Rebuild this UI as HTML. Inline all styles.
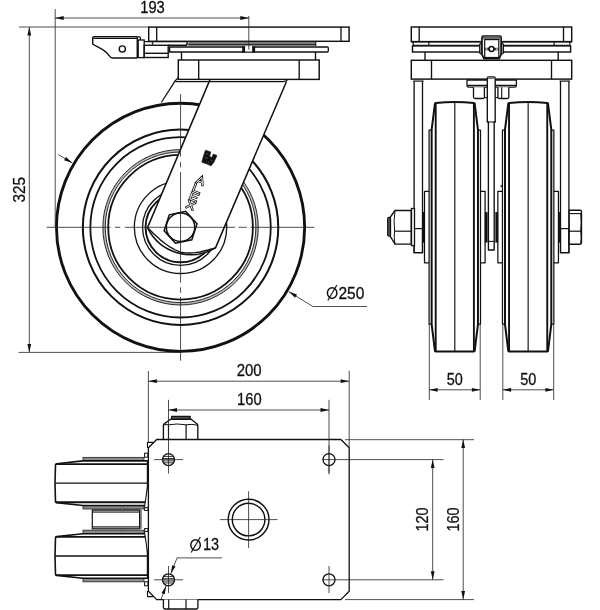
<!DOCTYPE html>
<html><head><meta charset="utf-8"><title>Castor drawing</title>
<style>
html,body{margin:0;padding:0;background:#fff;}
body{width:600px;height:610px;overflow:hidden;}
svg{display:block;filter:grayscale(1);}
text{font-family:"Liberation Sans",sans-serif;fill:#111;stroke:#111;stroke-width:0.3px;}
</style></head><body>
<svg width="600" height="610" viewBox="0 0 600 610">
<rect width="600" height="610" fill="#fff"/>
<g id="side">
<line x1="175" y1="81.2" x2="161.3" y2="102.5" stroke="#111" stroke-width="1.3" />
<circle cx="180.55" cy="227.3" r="124.1" fill="#fff" stroke="#111" stroke-width="2.85"/>
<circle cx="180.55" cy="227.3" r="97.7" fill="none" stroke="#111" stroke-width="2.0"/>
<circle cx="180.55" cy="227.3" r="90.2" fill="none" stroke="#111" stroke-width="1.8"/>
<circle cx="180.55" cy="227.3" r="76.5" fill="none" stroke="#bdbdbd" stroke-width="2.3"/>
<circle cx="180.55" cy="227.3" r="77.7" fill="none" stroke="#111" stroke-width="0.9"/>
<circle cx="180.55" cy="227.3" r="75.3" fill="none" stroke="#111" stroke-width="0.9"/>
<circle cx="180.55" cy="227.3" r="72.35" fill="none" stroke="#111" stroke-width="1.8"/>
<circle cx="180.55" cy="227.3" r="46.2" fill="none" stroke="#111" stroke-width="1.3"/>
<circle cx="180.55" cy="227.3" r="38.0" fill="none" stroke="#111" stroke-width="1.3"/>
<circle cx="180.55" cy="227.3" r="35.0" fill="none" stroke="#111" stroke-width="1.9"/>
<path d="M210,79.6 L147.5,227.6 A48.2,48.2 0 0 0 215.5,247.9 L286.7,81 Z" fill="#fff"/>
<path d="M210,79.6 L147.5,227.6 A48.2,48.2 0 0 0 215.5,247.9 L286.5,81.5" fill="none" stroke="#111" stroke-width="1.5" stroke-linejoin="round" />
<path d="M147.5,227.6 L154,234.1 L160,239.6 L165,243.5 L170.3,247.2 L175.5,250 L180.5,252.1 L185,252.9 L190,253 L195,252.7 L200,252 L208,250 L215.5,247.9" fill="none" stroke="#111" stroke-width="1.35" stroke-linejoin="round" />
<polygon points="196.97,223.75 191.83,239.75 175.41,243.30 164.13,230.85 169.27,214.85 185.69,211.30" fill="#fff" stroke="#111" stroke-width="1.5" stroke-linejoin="miter"/>
<circle cx="180.55" cy="227.3" r="14.2" fill="none" stroke="#111" stroke-width="1.5"/>
<polygon points="205.5,150.2 210.8,151.9 209.6,156.5 211.9,157.4 213.3,154.0 217.0,155.6 213.9,162.2 211.0,165.9 207.6,164.3 201.8,162.2 203.5,155.9" fill="#111" stroke="#111" stroke-width="0.6" stroke-linejoin="round"/>
<path d="M206.2,153.6 l2.2,0.8 M205.2,157.6 l2.6,1 M210.6,160.2 l2,0.8 M207.5,161.8 l1.8,0.7" stroke="#666" stroke-width="0.7" fill="none"/>
<g transform="translate(202.0,177.0) rotate(21.8) scale(1.1,1)" fill="none" stroke-linecap="square" stroke-linejoin="miter"><path d="M-3.1,7.4 L0,0.3 L3.1,7.4 M-1.9,5 H1.9 M-2.9,8.9 V16.1 H2.9 M2.9,17.8 H-2.9 V25 H2.9 M-2.9,21.4 H2.1 M-2.9,26.7 L2.9,33.9 M2.9,26.7 L-2.9,33.9" stroke="#111" stroke-width="2.3"/><path d="M-3.1,7.4 L0,0.3 L3.1,7.4 M-1.9,5 H1.9 M-2.9,8.9 V16.1 H2.9 M2.9,17.8 H-2.9 V25 H2.9 M-2.9,21.4 H2.1 M-2.9,26.7 L2.9,33.9 M2.9,26.7 L-2.9,33.9" stroke="#fff" stroke-width="0.8"/></g>
<rect x="148.7" y="27.1" width="200.4" height="14.2" rx="0" fill="#fff" stroke="#111" stroke-width="1.45"/>
<line x1="156.7" y1="27.1" x2="156.7" y2="41.3" stroke="#111" stroke-width="1.3" />
<line x1="341" y1="27.1" x2="341" y2="41.3" stroke="#111" stroke-width="1.3" />
<rect x="188.3" y="41.4" width="127.5" height="3.6" fill="#7c7c7c"/>
<line x1="188.3" y1="41.5" x2="315.8" y2="41.5" stroke="#111" stroke-width="0.9" />
<line x1="188.3" y1="44.9" x2="315.8" y2="44.9" stroke="#111" stroke-width="1.2" />
<line x1="315.8" y1="41.4" x2="315.8" y2="46" stroke="#111" stroke-width="1.0" />
<path d="M156,41.6 H186.5 Q188,43.4 186.5,45.2 H168" fill="none" stroke="#111" stroke-width="1.4" stroke-linejoin="round" />
<path d="M169.6,47 H327.4 Q328.3,47 328.3,47.9 V51.1 Q328.3,52 327.4,52 H169.6 Z" fill="#fff" stroke="#111" stroke-width="1.3" stroke-linejoin="round" />
<rect x="242.2" y="46.4" width="3" height="6" fill="#111"/>
<rect x="252.1" y="46.4" width="3" height="6" fill="#111"/>
<rect x="245.2" y="46" width="6.9" height="5.4" fill="#fff"/>
<line x1="181.5" y1="52" x2="181.5" y2="60" stroke="#111" stroke-width="1.35" />
<line x1="315.5" y1="52" x2="315.5" y2="60" stroke="#111" stroke-width="1.35" />
<rect x="178.3" y="60" width="140.9" height="19.4" rx="0" fill="#fff" stroke="#111" stroke-width="1.45"/>
<line x1="198.7" y1="60" x2="198.7" y2="79.4" stroke="#111" stroke-width="1.35" />
<line x1="299.2" y1="60" x2="299.2" y2="79.4" stroke="#111" stroke-width="1.35" />
<path d="M178.3,77.6 L175,81 L176.6,81.6 H283.5 Q286,81.5 287.6,79.6" fill="none" stroke="#111" stroke-width="1.3" stroke-linejoin="round" />
<path d="M137.2,36.8 H94 Q92.7,36.8 92.7,38 V44 C96,46.6 102,48 106.5,52.4 C108.6,54.6 110,58 112.5,58 H137.2" fill="#fff" stroke="#111" stroke-width="1.45" stroke-linejoin="round" />
<line x1="93.5" y1="38.5" x2="137.2" y2="38.5" stroke="#111" stroke-width="1.2" />
<line x1="137.3" y1="36.8" x2="137.3" y2="58" stroke="#111" stroke-width="1.5" />
<path d="M137.3,36.8 H139.4 Q140.4,36.8 140.4,37.8 V40" fill="none" stroke="#111" stroke-width="1.3" stroke-linejoin="round" />
<circle cx="122.3" cy="49.0" r="3.1" fill="none" stroke="#111" stroke-width="1.4"/>
<rect x="138.2" y="40" width="6.0" height="17.6" rx="0" fill="none" stroke="#111" stroke-width="1.3"/>
<rect x="144.2" y="45.3" width="24.0" height="12.2" rx="0" fill="none" stroke="#111" stroke-width="1.4"/>
<line x1="144.2" y1="41.6" x2="156" y2="41.6" stroke="#111" stroke-width="1.3" />
<line x1="144.2" y1="53.3" x2="168.2" y2="53.3" stroke="#111" stroke-width="1.4" />
<rect x="151.8" y="42.2" width="1.5" height="2.6" fill="#222"/>
</g>
<g id="front">
<rect x="411.3" y="27" width="160.4" height="14.6" rx="0" fill="#fff" stroke="#111" stroke-width="1.45"/>
<line x1="419.2" y1="27" x2="419.2" y2="41.6" stroke="#111" stroke-width="1.35" />
<line x1="563.5" y1="27" x2="563.5" y2="41.6" stroke="#111" stroke-width="1.35" />
<path d="M413.2,41.6 V45.3 H569.8 V41.6" fill="none" stroke="#111" stroke-width="1.2" stroke-linejoin="round" />
<rect x="428.2" y="42" width="1.3" height="3" fill="#222"/>
<rect x="553.5" y="42" width="1.3" height="3" fill="#222"/>
<line x1="411.3" y1="41.9" x2="571.7" y2="41.9" stroke="#111" stroke-width="1.3" />
<rect x="412.5" y="45.9" width="158.1" height="6.1" rx="0" fill="#fff" stroke="#111" stroke-width="1.45"/>
<line x1="425" y1="52" x2="425" y2="60" stroke="#111" stroke-width="1.35" />
<line x1="558.2" y1="52" x2="558.2" y2="60" stroke="#111" stroke-width="1.35" />
<rect x="411.3" y="60.3" width="160.4" height="18.8" rx="0" fill="#fff" stroke="#111" stroke-width="1.45"/>
<line x1="431.5" y1="60.3" x2="431.5" y2="79.1" stroke="#111" stroke-width="1.35" />
<line x1="551.5" y1="60.3" x2="551.5" y2="79.1" stroke="#111" stroke-width="1.35" />
<path d="M482,42.6 L479.6,44.2 V53 L482,54.6 Z" fill="#999" stroke="#111" stroke-width="1.1" stroke-linejoin="round" />
<path d="M501.1,42.6 L503.5,44.2 V53 L501.1,54.6 Z" fill="#999" stroke="#111" stroke-width="1.1" stroke-linejoin="round" />
<path d="M482,37.4 Q482,36 483.4,36 H499.7 Q501.1,36 501.1,37.4 V54.4 L499.2,58.6 H483.9 L482,54.4 Z" fill="#fff" stroke="#111" stroke-width="1.7" stroke-linejoin="round" />
<rect x="482.9" y="36.7" width="17.3" height="2.7" fill="#6a6a6a"/>
<rect x="484.7" y="39.6" width="14.1" height="17.9" rx="0" fill="#fff" stroke="#111" stroke-width="1.2"/>
<rect x="484.7" y="47.8" width="14.1" height="2.5" fill="#2a2a2a"/>
<rect x="485.7" y="48.4" width="1.8" height="1.3" fill="#e8e8e8"/>
<rect x="495.9" y="48.4" width="1.8" height="1.3" fill="#e8e8e8"/>
<circle cx="491.5" cy="49.0" r="2.5" fill="#fff" stroke="#111" stroke-width="1.5"/>
<path d="M414.1,81.3 V252.7 H422.5 V81.3" fill="#fff" stroke="#111" stroke-width="1.3" stroke-linejoin="round" />
<line x1="413.20000000000005" y1="81.1" x2="423.6" y2="81.1" stroke="#111" stroke-width="1.2" />
<path d="M560.5,81.3 V252.7 H568.9 V81.3" fill="#fff" stroke="#111" stroke-width="1.3" stroke-linejoin="round" />
<line x1="559.6" y1="81.1" x2="570.0" y2="81.1" stroke="#111" stroke-width="1.2" />
<rect x="414.1" y="228.6" width="8.4" height="24.1" rx="0" fill="none" stroke="#111" stroke-width="1.2"/>
<rect x="560.5" y="228.6" width="8.4" height="24.1" rx="0" fill="none" stroke="#111" stroke-width="1.2"/>
<path d="M434.9,104 Q434.9,103.1 435.8,103 Q454.8,100.9 473.8,103 Q474.7,103.1 474.7,104 L477.95,129.6 V324.4 L474.7,350.6 Q474.7,351.5 473.8,351.5 H435.8 Q434.9,351.5 434.9,350.6 L431.65,324.4 V129.6 Z" fill="#fff" stroke="#111" stroke-width="2.0" stroke-linejoin="round" />
<line x1="435.7" y1="103.3" x2="435.7" y2="351.4" stroke="#111" stroke-width="1.9" />
<line x1="473.9" y1="103.3" x2="473.9" y2="351.4" stroke="#111" stroke-width="1.9" />
<line x1="454.8" y1="102.3" x2="454.8" y2="351.4" stroke="#111" stroke-width="1.15" />
<path d="M431.6,130 H429.1 V324 H431.6" fill="none" stroke="#111" stroke-width="1.25" stroke-linejoin="round" />
<path d="M429.1,191.3 H424.5 V262.8 H429.1" fill="none" stroke="#111" stroke-width="1.25" stroke-linejoin="round" />
<rect x="423.0" y="212.2" width="1.5" height="30.2" rx="0" fill="#111" stroke="#111" stroke-width="0.3"/>
<path d="M478.0,130 H480.5 V324 H478.0" fill="none" stroke="#111" stroke-width="1.25" stroke-linejoin="round" />
<path d="M480.5,191.3 H485.1 V262.8 H480.5" fill="none" stroke="#111" stroke-width="1.25" stroke-linejoin="round" />
<rect x="485.0" y="212.2" width="2.4" height="30.2" rx="0" fill="#111" stroke="#111" stroke-width="0.3"/>
<path d="M508.25,104 Q508.25,103.1 509.15,103 Q528.15,100.9 547.15,103 Q548.05,103.1 548.05,104 L551.3,129.6 V324.4 L548.05,350.6 Q548.05,351.5 547.15,351.5 H509.15 Q508.25,351.5 508.25,350.6 L505.0,324.4 V129.6 Z" fill="#fff" stroke="#111" stroke-width="2.0" stroke-linejoin="round" />
<line x1="509.05" y1="103.3" x2="509.05" y2="351.4" stroke="#111" stroke-width="1.9" />
<line x1="547.25" y1="103.3" x2="547.25" y2="351.4" stroke="#111" stroke-width="1.9" />
<line x1="528.15" y1="102.3" x2="528.15" y2="351.4" stroke="#111" stroke-width="1.15" />
<path d="M504.95,130 H502.45 V324 H504.95" fill="none" stroke="#111" stroke-width="1.25" stroke-linejoin="round" />
<path d="M502.45,191.3 H497.85 V262.8 H502.45" fill="none" stroke="#111" stroke-width="1.25" stroke-linejoin="round" />
<rect x="495.55" y="212.2" width="2.4" height="30.2" rx="0" fill="#111" stroke="#111" stroke-width="0.3"/>
<path d="M551.35,130 H553.85 V324 H551.35" fill="none" stroke="#111" stroke-width="1.25" stroke-linejoin="round" />
<path d="M553.85,191.3 H558.45 V262.8 H553.85" fill="none" stroke="#111" stroke-width="1.25" stroke-linejoin="round" />
<rect x="558.45" y="212.2" width="1.5" height="30.2" rx="0" fill="#111" stroke="#111" stroke-width="0.3"/>
<path d="M467,80 H516.4 V85.6 Q516.4,87.2 514.6,87.2 H468.8 Q467,87.2 467,85.6 Z" fill="#fff" stroke="#111" stroke-width="1.3" stroke-linejoin="round" />
<line x1="467.4" y1="85.4" x2="516" y2="85.4" stroke="#111" stroke-width="1.3" />
<path d="M473.5,87.2 V97 Q473.5,98.5 475,98.5 H483 Q484.4,98.5 484.4,97 V87.2" fill="#fff" stroke="#111" stroke-width="1.3" stroke-linejoin="round" />
<path d="M484.4,97.6 H487.2" fill="none" stroke="#111" stroke-width="1.1" stroke-linejoin="round" />
<path d="M508.8,87.2 V97 Q508.8,98.5 507.3,98.5 H499.4 Q497.9,98.5 497.9,97 V87.2" fill="#fff" stroke="#111" stroke-width="1.3" stroke-linejoin="round" />
<line x1="501.7" y1="87.2" x2="501.7" y2="98.5" stroke="#111" stroke-width="1.1" />
<path d="M495.2,97.6 H497.9" fill="none" stroke="#111" stroke-width="1.1" stroke-linejoin="round" />
<path d="M488.4,250 V122 H487.3 V78 Q487.3,76.9 488.5,76.9 H494 Q495.2,76.9 495.2,78 V122 H494.2 V250 Z" fill="#fff" stroke="#111" stroke-width="1.35" stroke-linejoin="round" />
<rect x="487.9" y="77.4" width="6.7" height="1.7" fill="#777"/>
<path d="M487.3,122 H495.2" fill="none" stroke="#111" stroke-width="1.05" stroke-linejoin="round" />
<line x1="488.4" y1="241.4" x2="494.2" y2="241.4" stroke="#111" stroke-width="1.05" />
<circle cx="501.3" cy="186" r="0.7" fill="#111" stroke="#111" stroke-width="0.5"/>
<path d="M411.2,210.5 H395 L390.4,217 V236.6 L395,244.2 H411.2 Z" fill="#fff" stroke="#111" stroke-width="1.3" stroke-linejoin="round" />
<rect x="387.7" y="217.4" width="2.8" height="18.8" rx="1.2" fill="#555" stroke="#111" stroke-width="1.2"/>
<line x1="394.4" y1="231.2" x2="411.2" y2="231.2" stroke="#111" stroke-width="1.2" />
<path d="M395,210.5 Q393.4,221 394.6,231.2 Q393.6,238 395,244.2" fill="none" stroke="#111" stroke-width="1.0" stroke-linejoin="round" />
<rect x="411.5" y="208.5" width="3.0" height="37.1" rx="0" fill="#fff" stroke="#111" stroke-width="1.3"/>
<path d="M569.2,210.2 H580 Q581.5,210.2 581.5,211.8 V242.6 Q581.5,244.2 580,244.2 H569.2 Z" fill="#fff" stroke="#111" stroke-width="1.35" stroke-linejoin="round" />
<line x1="569.2" y1="231.2" x2="581.5" y2="231.2" stroke="#111" stroke-width="1.2" />
<line x1="569.2" y1="213.6" x2="581" y2="213.6" stroke="#111" stroke-width="1.1" />
<path d="M580.6,213.6 Q581.8,222 580.6,231.2 Q581.8,238 580.6,244" fill="none" stroke="#111" stroke-width="0.9" stroke-linejoin="round" />
</g>
<g id="plan">
<rect x="83" y="457.4" width="61" height="3.4" rx="0" fill="#8a8a8a" stroke="#333" stroke-width="0.9"/>
<rect x="83" y="505.6" width="61" height="3.4" rx="0" fill="#8a8a8a" stroke="#333" stroke-width="0.9"/>
<path d="M56.5,463.8 Q55.6,463.8 55.5,464.8 Q54.5,483.2 55.5,501.6 Q55.6,502.6 56.5,502.6 L83,505.5 H147.6 V460.9 H83 Z" fill="#fff" stroke="#111" stroke-width="1.6" stroke-linejoin="round" />
<line x1="56" y1="464.1" x2="147.6" y2="464.1" stroke="#111" stroke-width="1.9" />
<line x1="56" y1="502.3" x2="147.6" y2="502.3" stroke="#111" stroke-width="1.9" />
<line x1="55.2" y1="483.2" x2="147.6" y2="483.2" stroke="#111" stroke-width="1.3" />
<rect x="83" y="530.2" width="61" height="3.4" rx="0" fill="#8a8a8a" stroke="#333" stroke-width="0.9"/>
<rect x="83" y="578.4" width="61" height="3.4" rx="0" fill="#8a8a8a" stroke="#333" stroke-width="0.9"/>
<path d="M56.5,536.6 Q55.6,536.6 55.5,537.6 Q54.5,556.0 55.5,574.4 Q55.6,575.4 56.5,575.4 L83,578.3 H147.6 V533.7 H83 Z" fill="#fff" stroke="#111" stroke-width="1.6" stroke-linejoin="round" />
<line x1="56" y1="536.9" x2="147.6" y2="536.9" stroke="#111" stroke-width="1.9" />
<line x1="56" y1="575.1" x2="147.6" y2="575.1" stroke="#111" stroke-width="1.9" />
<line x1="55.2" y1="556.0" x2="147.6" y2="556.0" stroke="#111" stroke-width="1.3" />
<rect x="92.3" y="510" width="47.3" height="18.8" rx="0" fill="#fff" stroke="#111" stroke-width="1.2"/>
<rect x="92.8" y="510.2" width="46.4" height="2.2" rx="0" fill="#888" stroke="#111" stroke-width="0.5"/>
<rect x="92.8" y="526.4" width="46.4" height="2.2" rx="0" fill="#888" stroke="#111" stroke-width="0.5"/>
<line x1="141" y1="510" x2="141" y2="528.8" stroke="#111" stroke-width="0.95" />
<polygon points="120.8,508.2 123.6,508.2 122.2,510" fill="#fff" stroke="#111" stroke-width="0.5"/>
<polygon points="120.8,530.8 123.6,530.8 122.2,529" fill="#fff" stroke="#111" stroke-width="0.5"/>
<polygon points="148.2,483.2 144.5,507.2 148.4,507.2" fill="#fff"/>
<polygon points="148.2,555.8 144.5,531.8 148.4,531.8" fill="#fff"/>
<path d="M148,483.2 L144.5,507" fill="none" stroke="#111" stroke-width="1.1" stroke-linejoin="round" />
<path d="M148,555.8 L144.5,532" fill="none" stroke="#111" stroke-width="1.1" stroke-linejoin="round" />
<path d="M147.5,448 V442.4 H153 M147.5,591 V596.6 H153" fill="none" stroke="#111" stroke-width="1.1" stroke-linejoin="round" />
<rect x="144.6" y="453.2" width="3.4" height="4.0" rx="0" fill="#fff" stroke="#111" stroke-width="1.0"/>
<rect x="144.6" y="507.6" width="3.4" height="2.8" rx="0" fill="#fff" stroke="#111" stroke-width="1.0"/>
<rect x="144.6" y="528.6" width="3.4" height="2.8" rx="0" fill="#fff" stroke="#111" stroke-width="1.0"/>
<rect x="144.6" y="581.8" width="3.4" height="4.0" rx="0" fill="#fff" stroke="#111" stroke-width="1.0"/>
<path d="M163.4,439.5 V425.5 Q163.4,424.3 164.2,423.90000000000003 L170.6,419.2 H191.2 L197,423.90000000000003 Q197.8,424.3 197.8,425.5 V439.5" fill="#fff" stroke="#111" stroke-width="1.35" stroke-linejoin="round" />
<path d="M163.6,425.2 Q166,424.0 168.5,424.8 Q177.3,423.2 186.1,424.8 Q192,423.8 197.6,425.2" fill="none" stroke="#111" stroke-width="1.0" stroke-linejoin="round" />
<line x1="168.5" y1="424.8" x2="168.5" y2="439.5" stroke="#111" stroke-width="1.2" />
<line x1="186.1" y1="424.8" x2="186.1" y2="439.5" stroke="#111" stroke-width="1.2" />
<rect x="171.6" y="416.5" width="18.6" height="2.5" rx="0" fill="#555" stroke="#111" stroke-width="1.0"/>
<line x1="171.4" y1="416.4" x2="190.4" y2="416.4" stroke="#111" stroke-width="1.3" />
<path d="M156.70000000000002,439.5 H340.9 L349.2,447.8 V591.3000000000001 L340.9,599.6 H156.70000000000002 L148.4,591.3000000000001 V447.8 Z" fill="#fff" stroke="#111" stroke-width="1.3" stroke-linejoin="round" />
<path d="M163.4,599.6 V607.6 Q163.4,609 164.9,609 H196.4 Q197.9,609 197.9,607.6 V599.6" fill="#fff" stroke="#111" stroke-width="1.3" stroke-linejoin="round" />
<line x1="168.7" y1="599.6" x2="168.7" y2="609" stroke="#111" stroke-width="1.2" />
<line x1="186" y1="599.6" x2="186" y2="609" stroke="#111" stroke-width="1.2" />
<circle cx="168.5" cy="459.6" r="6.0" fill="#fff" stroke="#111" stroke-width="1.35"/>
<circle cx="168.5" cy="579.8" r="6.0" fill="#fff" stroke="#111" stroke-width="1.35"/>
<circle cx="329.0" cy="459.6" r="6.0" fill="#fff" stroke="#111" stroke-width="1.35"/>
<circle cx="329.0" cy="579.8" r="6.0" fill="#fff" stroke="#111" stroke-width="1.35"/>
<line x1="163.31" y1="456.40000000000003" x2="173.69" y2="456.40000000000003" stroke="#111" stroke-width="0.85" />
<line x1="162.5" y1="458.5" x2="174.5" y2="458.5" stroke="#111" stroke-width="0.85" />
<line x1="162.54" y1="460.90000000000003" x2="174.46" y2="460.90000000000003" stroke="#111" stroke-width="0.85" />
<line x1="163.31" y1="462.8" x2="173.69" y2="462.8" stroke="#111" stroke-width="0.85" />
<line x1="163.31" y1="576.5999999999999" x2="173.69" y2="576.5999999999999" stroke="#111" stroke-width="0.85" />
<line x1="162.5" y1="578.6999999999999" x2="174.5" y2="578.6999999999999" stroke="#111" stroke-width="0.85" />
<line x1="162.54" y1="581.0999999999999" x2="174.46" y2="581.0999999999999" stroke="#111" stroke-width="0.85" />
<line x1="163.31" y1="583.0" x2="173.69" y2="583.0" stroke="#111" stroke-width="0.85" />
<circle cx="248.6" cy="519.6" r="20.4" fill="none" stroke="#111" stroke-width="1.45"/>
<circle cx="248.6" cy="519.6" r="16.3" fill="none" stroke="#111" stroke-width="1.45"/>
</g>
<g id="dims" stroke-linecap="butt">
<line x1="46.7" y1="227.3" x2="314.4" y2="227.3" stroke="#222" stroke-width="0.8" stroke-dasharray="63.8 4.5 5.3 4.5 110.3 3.5 8.2 3.6 64"/>
<line x1="180.55" y1="94" x2="180.55" y2="360.7" stroke="#222" stroke-width="0.8" stroke-dasharray="62.7 5.3 5.3 4.7 110.7 4.6 5.4 4.3 64"/>
<line x1="55.2" y1="9" x2="55.2" y2="227.3" stroke="#222" stroke-width="0.8" />
<line x1="248.8" y1="16" x2="248.8" y2="49.6" stroke="#222" stroke-width="0.8" />
<line x1="55.2" y1="18" x2="248.8" y2="18" stroke="#222" stroke-width="0.8" />
<polygon points="55.20,18.00 63.70,16.10 63.70,19.90" fill="#111"/>
<polygon points="248.80,18.00 240.30,19.90 240.30,16.10" fill="#111"/>
<text x="152.5" y="13.3" font-size="16.2" text-anchor="middle" textLength="24.6" lengthAdjust="spacingAndGlyphs">193</text>
<line x1="19" y1="27" x2="148.7" y2="27" stroke="#222" stroke-width="0.8" />
<line x1="18.5" y1="352.4" x2="181" y2="352.4" stroke="#222" stroke-width="0.8" />
<line x1="29.3" y1="27" x2="29.3" y2="352.4" stroke="#222" stroke-width="0.8" />
<polygon points="29.30,27.00 31.20,35.50 27.40,35.50" fill="#111"/>
<polygon points="29.30,352.40 27.40,343.90 31.20,343.90" fill="#111"/>
<text x="24.6" y="189.8" font-size="16.8" text-anchor="middle" transform="rotate(-90 24.6 189.8)" textLength="25.6" lengthAdjust="spacingAndGlyphs">325</text>
<line x1="58.26" y1="154.54" x2="72.44" y2="162.98" stroke="#222" stroke-width="0.8" />
<polygon points="72.44,162.98 64.07,160.22 66.02,156.95" fill="#111"/>
<path d="M288.66,291.62 L312.9,306.5 H367" fill="none" stroke="#222" stroke-width="0.8" stroke-linejoin="round" />
<polygon points="288.66,291.62 297.03,294.38 295.08,297.65" fill="#111"/>
<ellipse cx="332.15000000000003" cy="293.1" rx="4.75" ry="5.3" fill="none" stroke="#111" stroke-width="1.45"/>
<line x1="327.8" y1="300.5" x2="336.90000000000003" y2="285.0" stroke="#111" stroke-width="1.15" />
<text x="338.4" y="298.5" font-size="16.8" text-anchor="start" textLength="25.9" lengthAdjust="spacingAndGlyphs">250</text>
<line x1="429.3" y1="324" x2="429.3" y2="400" stroke="#222" stroke-width="0.8" />
<line x1="480.2" y1="324" x2="480.2" y2="400" stroke="#222" stroke-width="0.8" />
<line x1="429.3" y1="389.8" x2="480.2" y2="389.8" stroke="#222" stroke-width="0.8" />
<polygon points="429.30,389.80 437.60,387.90 437.60,391.70" fill="#111"/>
<polygon points="480.20,389.80 471.90,391.70 471.90,387.90" fill="#111"/>
<text x="454.75" y="384.75" font-size="16.8" text-anchor="middle" textLength="16.1" lengthAdjust="spacingAndGlyphs">50</text>
<line x1="502.8" y1="324" x2="502.8" y2="400" stroke="#222" stroke-width="0.8" />
<line x1="553.7" y1="324" x2="553.7" y2="400" stroke="#222" stroke-width="0.8" />
<line x1="502.8" y1="389.8" x2="553.7" y2="389.8" stroke="#222" stroke-width="0.8" />
<polygon points="502.80,389.80 511.10,387.90 511.10,391.70" fill="#111"/>
<polygon points="553.70,389.80 545.40,391.70 545.40,387.90" fill="#111"/>
<text x="528.25" y="384.75" font-size="16.8" text-anchor="middle" textLength="16.1" lengthAdjust="spacingAndGlyphs">50</text>
<line x1="148.4" y1="371" x2="148.4" y2="443" stroke="#222" stroke-width="0.8" />
<line x1="349.2" y1="370.7" x2="349.2" y2="447" stroke="#222" stroke-width="0.8" />
<line x1="148.4" y1="381.2" x2="349.2" y2="381.2" stroke="#222" stroke-width="0.8" />
<polygon points="148.40,381.20 156.90,379.30 156.90,383.10" fill="#111"/>
<polygon points="349.20,381.20 340.70,383.10 340.70,379.30" fill="#111"/>
<text x="249.1" y="375.9" font-size="16.8" text-anchor="middle" textLength="24.9" lengthAdjust="spacingAndGlyphs">200</text>
<line x1="168.5" y1="399.8" x2="168.5" y2="473.5" stroke="#222" stroke-width="0.8" />
<line x1="329" y1="399.8" x2="329" y2="474.3" stroke="#222" stroke-width="0.8" />
<line x1="168.5" y1="410" x2="329" y2="410" stroke="#222" stroke-width="0.8" />
<polygon points="168.50,410.00 177.00,408.10 177.00,411.90" fill="#111"/>
<polygon points="329.00,410.00 320.50,411.90 320.50,408.10" fill="#111"/>
<text x="249.3" y="404.9" font-size="16.8" text-anchor="middle" textLength="24.6" lengthAdjust="spacingAndGlyphs">160</text>
<line x1="154" y1="459.6" x2="183" y2="459.6" stroke="#222" stroke-width="0.8" />
<line x1="154" y1="579.8" x2="183" y2="579.8" stroke="#222" stroke-width="0.8" />
<line x1="168.5" y1="566" x2="168.5" y2="593" stroke="#222" stroke-width="0.8" />
<line x1="329.0" y1="445.5" x2="329.0" y2="473" stroke="#222" stroke-width="0.8" />
<line x1="329.0" y1="566" x2="329.0" y2="593" stroke="#222" stroke-width="0.8" />
<line x1="322" y1="459.6" x2="443.5" y2="459.6" stroke="#222" stroke-width="0.8" />
<line x1="322" y1="579.8" x2="443.5" y2="579.8" stroke="#222" stroke-width="0.8" />
<line x1="220" y1="519.6" x2="277.5" y2="519.6" stroke="#222" stroke-width="0.8" />
<line x1="248.6" y1="491.3" x2="248.6" y2="548" stroke="#222" stroke-width="0.8" />
<line x1="432.7" y1="459.6" x2="432.7" y2="579.8" stroke="#222" stroke-width="0.8" />
<polygon points="432.70,459.60 434.60,468.10 430.80,468.10" fill="#111"/>
<polygon points="432.70,579.80 430.80,571.30 434.60,571.30" fill="#111"/>
<text x="427.6" y="519.5" font-size="16.8" text-anchor="middle" transform="rotate(-90 427.6 519.5)" textLength="24.2" lengthAdjust="spacingAndGlyphs">120</text>
<line x1="345" y1="439.7" x2="474" y2="439.7" stroke="#222" stroke-width="0.8" />
<line x1="345" y1="599.6" x2="474" y2="599.6" stroke="#222" stroke-width="0.8" />
<line x1="463.2" y1="439.5" x2="463.2" y2="599.6" stroke="#222" stroke-width="0.8" />
<polygon points="463.20,439.50 465.10,448.00 461.30,448.00" fill="#111"/>
<polygon points="463.20,599.60 461.30,591.10 465.10,591.10" fill="#111"/>
<text x="459.2" y="519.5" font-size="16.8" text-anchor="middle" transform="rotate(-90 459.2 519.5)" textLength="24.2" lengthAdjust="spacingAndGlyphs">160</text>
<path d="M222,557.9 H177 L170.90,573.55" fill="none" stroke="#222" stroke-width="0.8" stroke-linejoin="round" />
<path d="M166.10,586.05 L161.05,599.22" fill="none" stroke="#222" stroke-width="0.8" stroke-linejoin="round" />
<polygon points="170.90,573.55 172.16,565.24 175.52,566.53" fill="#111"/>
<polygon points="166.10,586.05 164.84,594.36 161.48,593.07" fill="#111"/>
<ellipse cx="195.55" cy="545.1" rx="4.75" ry="5.3" fill="none" stroke="#111" stroke-width="1.45"/>
<line x1="191.2" y1="552.5" x2="200.3" y2="537" stroke="#111" stroke-width="1.15" />
<text x="202.9" y="550.4" font-size="16.8" text-anchor="start" textLength="16.1" lengthAdjust="spacingAndGlyphs">13</text>
</g>
</svg>
</body></html>
